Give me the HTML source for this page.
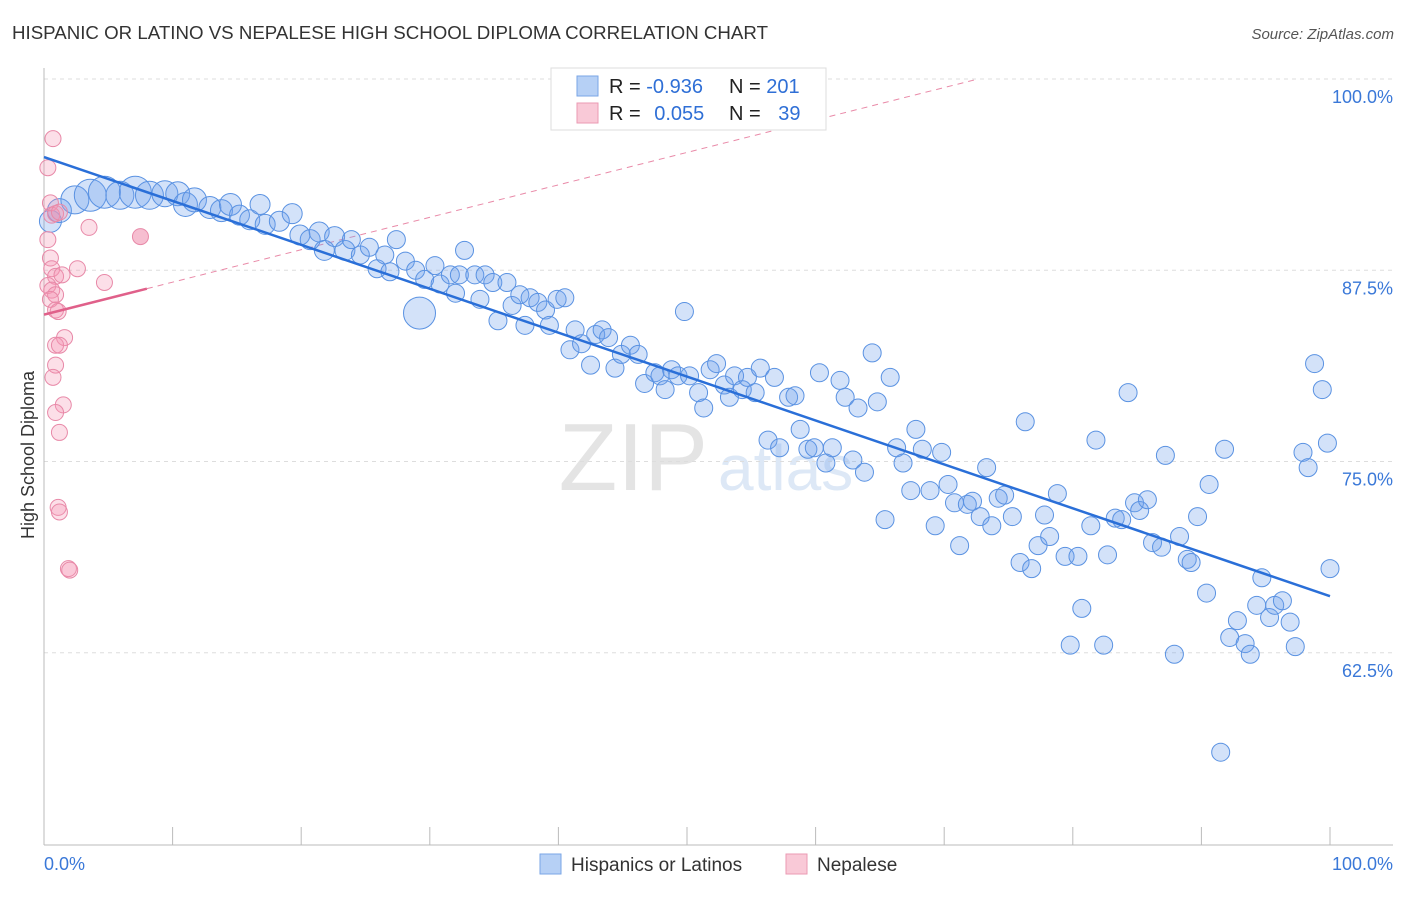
<!DOCTYPE html>
<html><head><meta charset="utf-8"><style>
body{margin:0;background:#fff;font-family:"Liberation Sans",sans-serif}
svg text{font-family:"Liberation Sans",sans-serif}
</style></head><body>
<svg id="chart" width="1406" height="892" xmlns="http://www.w3.org/2000/svg">
<text x="12" y="39" font-size="18" fill="#333" textLength="756" lengthAdjust="spacingAndGlyphs">HISPANIC OR LATINO VS NEPALESE HIGH SCHOOL DIPLOMA CORRELATION CHART</text>
<text x="1394" y="39" font-size="15" fill="#555" font-style="italic" text-anchor="end">Source: ZipAtlas.com</text>
<text x="708" y="490" font-size="96" fill="#e4e4e4" font-family="Liberation Serif" text-anchor="end">ZIP</text>
<text x="718" y="490" font-size="64" fill="#dde8f6">atlas</text>
<g id="grid"></g>
<g id="axes"></g>
<g id="marks"></g>
<text transform="translate(34,455) rotate(-90)" font-size="18" fill="#333" text-anchor="middle">High School Diploma</text>
<g>
<rect x="551" y="68" width="275" height="62" fill="#fff" stroke="#ddd"/>
<rect x="577" y="76" width="21" height="20" fill="#b6d0f5" stroke="#7aa6e6"/>
<rect x="577" y="103" width="21" height="20" fill="#f9c9d7" stroke="#eb9ab3"/>
<text x="609" y="93" font-size="20" fill="#222">R = <tspan fill="#2f6fd6">-0.936</tspan></text>
<text x="729" y="93" font-size="20" fill="#222">N = <tspan fill="#2f6fd6">201</tspan></text>
<text x="609" y="120" font-size="20" fill="#222">R = <tspan fill="#2f6fd6" dx="8">0.055</tspan></text>
<text x="729" y="120" font-size="20" fill="#222">N = <tspan fill="#2f6fd6" dx="12">39</tspan></text>
</g>
<g>
<rect x="540" y="854" width="21" height="20" fill="#b6d0f5" stroke="#7aa6e6"/>
<text x="571" y="871" font-size="19" fill="#333">Hispanics or Latinos</text>
<rect x="786" y="854" width="21" height="20" fill="#f9c9d7" stroke="#eb9ab3"/>
<text x="817" y="871" font-size="19" fill="#333">Nepalese</text>
</g>
</svg>
<script>
const blueX=[0.5,1.2,2.4,3.6,4.7,5.9,7.1,8.2,9.4,10.4,11.0,11.7,12.9,13.8,14.5,15.2,16.0,16.8,17.2,18.3,19.3,19.9,20.7,21.4,21.8,22.6,23.4,23.9,24.6,25.3,25.9,26.5,26.9,27.4,28.1,28.9,29.2,29.6,30.4,30.8,31.6,32.0,32.7,32.3,33.5,33.9,34.3,34.9,35.3,36.0,36.4,37.0,37.4,37.8,38.4,39.0,39.3,39.9,40.5,40.9,41.3,41.8,42.5,42.9,43.4,43.9,44.4,44.9,45.6,46.2,46.7,47.5,47.9,48.3,48.8,49.3,49.8,50.2,50.9,51.3,51.8,52.3,52.9,53.3,53.7,54.3,54.7,55.3,55.7,56.3,56.8,57.2,57.9,58.4,58.8,59.4,59.9,60.3,60.8,61.3,61.9,62.3,62.9,63.3,63.8,64.4,64.8,65.4,65.8,66.3,66.8,67.4,67.8,68.3,68.9,69.3,69.8,70.3,70.8,71.2,71.8,72.2,72.8,73.3,73.7,74.2,74.7,75.3,75.9,76.3,76.8,77.3,77.8,78.2,78.8,79.4,79.8,80.4,80.7,81.4,81.8,82.4,82.7,83.3,83.8,84.3,84.8,85.2,85.8,86.2,86.9,87.2,87.9,88.3,88.9,89.2,89.7,90.4,90.6,91.5,91.8,92.2,92.8,93.4,93.8,94.3,94.7,95.3,95.7,96.3,96.9,97.3,97.9,98.3,98.8,99.4,99.8,100];
const blueY=[90.7,91.4,92.1,92.4,92.6,92.4,92.6,92.4,92.5,92.5,91.8,92.1,91.6,91.4,91.8,91.1,90.8,91.8,90.5,90.7,91.2,89.8,89.5,90.0,88.8,89.7,88.8,89.5,88.5,89.0,87.6,88.5,87.4,89.5,88.1,87.5,84.7,86.9,87.8,86.6,87.2,86.0,88.8,87.2,87.2,85.6,87.2,86.7,84.2,86.7,85.2,85.9,83.9,85.7,85.4,84.9,83.9,85.6,85.7,82.3,83.6,82.7,81.3,83.3,83.6,83.1,81.1,82.0,82.6,82.0,80.1,80.8,80.6,79.7,81.0,80.6,84.8,80.6,79.5,78.5,81.0,81.4,80.0,79.2,80.6,79.7,80.5,79.5,81.1,76.4,80.5,75.9,79.2,79.3,77.1,75.8,75.9,80.8,74.9,75.9,80.3,79.2,75.1,78.5,74.3,82.1,78.9,71.2,80.5,75.9,74.9,73.1,77.1,75.8,73.1,70.8,75.6,73.5,72.3,69.5,72.2,72.4,71.4,74.6,70.8,72.6,72.8,71.4,68.4,77.6,68.0,69.5,71.5,70.1,72.9,68.8,63.0,68.8,65.4,70.8,76.4,63.0,68.9,71.3,71.2,79.5,72.3,71.8,72.5,69.7,69.4,75.4,62.4,70.1,68.6,68.4,71.4,66.4,73.5,56.0,75.8,63.5,64.6,63.1,62.4,65.6,67.4,64.8,65.6,65.9,64.5,62.9,75.6,74.6,81.4,79.7,76.2,68.0];
const blueSize=[11,12,14,16,16,14,16,14,13,12,12,12,11,11,11,10,10,10,10,10,10,10,10,10,10,10,10,9,9,9,9,9,9,9,9,9,16];
const pinkX=[0.7,0.3,0.5,0.6,0.9,1.2,3.5,7.5,0.3,0.5,0.6,0.9,1.4,2.6,4.7,0.3,0.6,0.9,0.5,0.9,1.1,1.6,0.9,1.2,0.9,0.7,1.5,0.9,1.2,1.1,1.2,1.9,2.0];
const pinkY=[96.1,94.2,91.9,91.1,91.2,91.3,90.3,89.7,89.5,88.3,87.6,87.1,87.2,87.6,86.7,86.5,86.2,85.9,85.6,84.9,84.8,83.1,82.6,82.6,81.3,80.5,78.7,78.2,76.9,72.0,71.7,68.0,67.9];
const blueFit=[94.9,-0.287];
const pinkFit=[84.6,0.212];
const xTicks=[0,10,20,30,40,50,60,70,80,90,100];
const yTicks=[100,87.5,75,62.5];
const yTickLabels=["100.0%","87.5%","75.0%","62.5%"];
const xAxisLabels=["0.0%","100.0%"];

const NS="http://www.w3.org/2000/svg";
const X=v=>44+v*12.86;
const Y=v=>79+(100-v)*15.3;
function mk(tag,attrs,parent){const e=document.createElementNS(NS,tag);for(const k in attrs)e.setAttribute(k,attrs[k]);parent.appendChild(e);return e;}
const grid=document.getElementById('grid'),axes=document.getElementById('axes'),marks=document.getElementById('marks');
yTicks.forEach((t,i)=>{
  const l=mk('line',{x1:44,x2:1393,y1:Y(t),y2:Y(t),stroke:'#ddd','stroke-dasharray':'4,4'},grid);
  
  
  const tx=mk('text',{x:1393,y:Y(t)+24,'font-size':18,fill:'#3a78d8','text-anchor':'end'},axes);
  tx.textContent=yTickLabels[i];
  
  
});
const ax=mk('line',{x1:44,x2:1393,y1:845,y2:845,stroke:'#bbb'},axes);


const ay=mk('line',{x1:44,x2:44,y1:68,y2:845,stroke:'#bbb'},axes);


xTicks.forEach(t=>{
  const l=mk('line',{x1:X(t),x2:X(t),y1:827,y2:845,stroke:'#bbb'},axes);
  
  
});
[[0,'start'],[100,'end']].forEach((p,i)=>{
  const tx=mk('text',{x:i?1393:44,y:870,'font-size':18,fill:'#3a78d8','text-anchor':p[1]},axes);
  tx.textContent=xAxisLabels[i];
  
  
});
const xEnd=(100-pinkFit[0])/pinkFit[1];
const pd=mk('line',{x1:X(8),y1:Y(pinkFit[0]+pinkFit[1]*8),x2:X(xEnd),y2:Y(100),stroke:'#e98aa8','stroke-dasharray':'6,5','stroke-width':1},marks);


blueX.forEach((x,i)=>{
  const c=mk('circle',{cx:X(x),cy:Y(blueY[i]),r:blueSize[i]||9,fill:'rgba(110,160,235,0.3)',stroke:'#5a92e2','stroke-width':1},marks);
  
  
});
pinkX.forEach((x,i)=>{
  const c=mk('circle',{cx:X(x),cy:Y(pinkY[i]),r:8,fill:i==7?'rgba(235,110,150,0.45)':'rgba(245,150,180,0.3)',stroke:'#e889a8','stroke-width':1},marks);
  
  
});
const bl=mk('line',{x1:X(0),y1:Y(blueFit[0]),x2:X(100),y2:Y(blueFit[0]+blueFit[1]*100),stroke:'#2a6fd8','stroke-width':2.5},marks);


const pl=mk('line',{x1:X(0),y1:Y(pinkFit[0]),x2:X(8),y2:Y(pinkFit[0]+pinkFit[1]*8),stroke:'#e0608a','stroke-width':2.5},marks);


</script>
</body></html>
